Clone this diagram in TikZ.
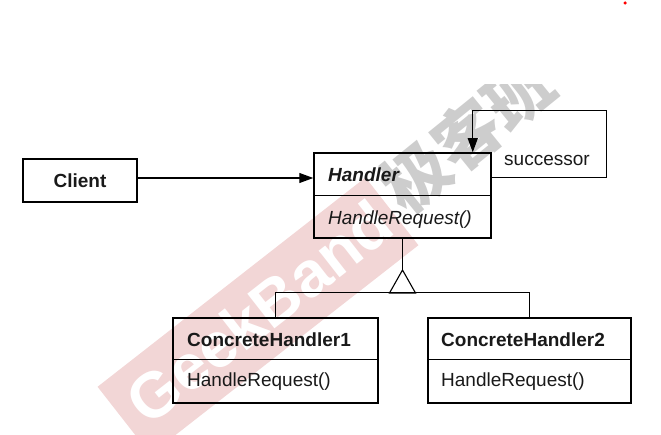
\documentclass[tikz,border=0pt]{standalone}
\usepackage{fontspec}
\setmainfont{Liberation Sans}
\newfontfamily\cjkfont{Noto Sans CJK SC}
\usetikzlibrary{arrows.meta}
\definecolor{wmpink}{RGB}{242,214,214}
\definecolor{wmgray}{RGB}{205,205,205}
\begin{document}
\begin{tikzpicture}[x=1pt,y=-1pt,
  classbox/.style={draw, line width=1.5pt, inner sep=0pt},
  txt/.style={font=\fontsize{19}{22}\selectfont, inner sep=0pt, anchor=base west, text=black!90},
  conn/.style={line width=1.1pt},
  assoc/.style={conn, -{Triangle[length=14pt,width=10pt]}}
]
\useasboundingbox (0,0) rectangle (661,435);

% watermark
\begin{scope}
  \clip (0,85) rectangle (661,435);
  \node[rotate=38, fill=wmpink, minimum width=340pt, minimum height=86pt, inner sep=0pt] (band) at (258,316) {};
  \node[rotate=38, text=white, inner sep=0pt, font=\fontsize{64}{64}\selectfont\bfseries] (wmlatin) at (259,312) {GeekBand};
  \node[rotate=39, anchor=west, inner sep=0pt, text=wmgray, font=\cjkfont\fontsize{66}{66}\selectfont\bfseries] (wmcjk) at (390,197) {极客班};
\end{scope}

\node[circle, fill=red, inner sep=0pt, minimum size=3.5pt] (dot) at (625,3) {};

% Client
\node[classbox, minimum width=114pt, minimum height=43pt] (client) at (80,180.5) {};
\node[txt, anchor=center, font=\fontsize{19}{22}\selectfont\bfseries] (clientlabel) at (client.center) {Client};

% Handler
\node[classbox, minimum width=177pt, minimum height=85pt] (handler) at (402.5,195.5) {};
\draw[conn] ([yshift=-43pt]handler.north west) -- ([yshift=-43pt]handler.north east);
\node[txt, font=\fontsize{19}{22}\selectfont\bfseries\itshape] (hname) at (328,182) {Handler};
\node[txt, font=\fontsize{19}{22}\selectfont\itshape] (hop) at (328,225) {HandleRequest()};

% ConcreteHandler1
\node[classbox, minimum width=205pt, minimum height=85pt] (ch1) at (275.5,360.5) {};
\draw[conn] ([yshift=-42pt]ch1.north west) -- ([yshift=-42pt]ch1.north east);
\node[txt, font=\fontsize{19}{22}\selectfont\bfseries] (ch1name) at (187,347) {ConcreteHandler1};
\node[txt] (ch1op) at (187,386) {HandleRequest()};

% ConcreteHandler2
\node[classbox, minimum width=203pt, minimum height=85pt] (ch2) at (529.5,360.5) {};
\draw[conn] ([yshift=-42pt]ch2.north west) -- ([yshift=-42pt]ch2.north east);
\node[txt, font=\fontsize{19}{22}\selectfont\bfseries] (ch2name) at (441,347) {ConcreteHandler2};
\node[txt] (ch2op) at (441,386) {HandleRequest()};

% Client -> Handler
\draw[assoc] (client.east |- 0,178) -- (handler.west |- 0,178);

% successor self-association
\draw[assoc] ([yshift=-25pt]handler.north east) -| ++(115,-67) -| ([xshift=-19pt]handler.north east);
\node[txt] (succ) at (504,166) {successor};

% inheritance
\coordinate (apex) at (handler.south |- 0,270);
\draw[conn] (handler.south) -- (apex);
\draw[conn] (apex) -- ++(-13,23) -- ++(26,0) -- cycle;
\draw[conn] (ch1.north) -- ++(0,-25) -| (ch2.north);
\end{tikzpicture}
\end{document}
